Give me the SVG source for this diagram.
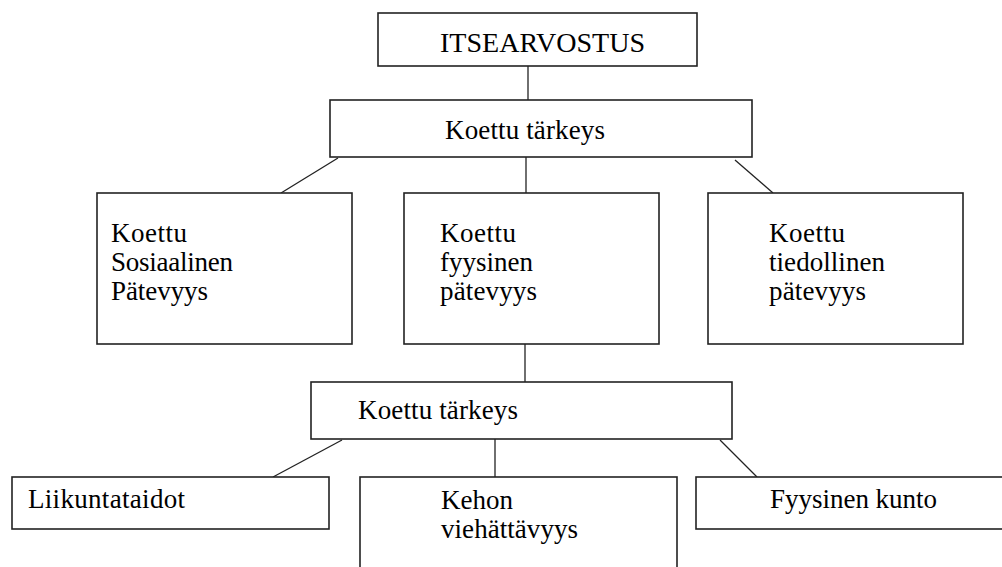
<svg xmlns="http://www.w3.org/2000/svg" width="1002" height="567" viewBox="0 0 1002 567">
<style>
.box{fill:#fff;stroke:#222;stroke-width:1.6}
.ln{stroke:#222;stroke-width:1.3;fill:none}
.t{font-family:'Liberation Serif', 'Times New Roman', serif;font-size:27px;fill:#000}
</style>
<rect width="1002" height="567" fill="#fff"/>
<g id="connectors">
<line class="ln" x1="528" y1="66" x2="528" y2="100"/>
<line class="ln" x1="526" y1="157" x2="526" y2="193"/>
<line class="ln" x1="338" y1="158" x2="281" y2="193"/>
<line class="ln" x1="735" y1="160" x2="773" y2="193"/>
<line class="ln" x1="525" y1="344" x2="525" y2="382"/>
<line class="ln" x1="342" y1="440" x2="273" y2="477"/>
<line class="ln" x1="495" y1="439" x2="495" y2="477"/>
<line class="ln" x1="720" y1="440" x2="757" y2="477"/>
</g>
<g class="t">
<g id="itsearvostus">
<rect class="box" x="378" y="13" width="319" height="53"/>
<text x="440" y="52" textLength="205" lengthAdjust="spacingAndGlyphs">ITSEARVOSTUS</text>
</g>
<g id="tarkeys1">
<rect class="box" x="330" y="100" width="422" height="57"/>
<text x="445" y="139" textLength="160" lengthAdjust="spacing">Koettu tärkeys</text>
</g>
<g id="sosiaalinen">
<rect class="box" x="97" y="193" width="255" height="151"/>
<text x="111" y="242" textLength="76" lengthAdjust="spacing">Koettu</text>
<text x="111" y="271" textLength="122" lengthAdjust="spacing">Sosiaalinen</text>
<text x="111" y="300" textLength="97" lengthAdjust="spacing">Pätevyys</text>
</g>
<g id="fyysinen">
<rect class="box" x="404" y="193" width="255" height="151"/>
<text x="440" y="242" textLength="76" lengthAdjust="spacing">Koettu</text>
<text x="440" y="271" textLength="93" lengthAdjust="spacing">fyysinen</text>
<text x="440" y="300" textLength="97" lengthAdjust="spacing">pätevyys</text>
</g>
<g id="tiedollinen">
<rect class="box" x="708" y="193" width="255" height="151"/>
<text x="769" y="242" textLength="76" lengthAdjust="spacing">Koettu</text>
<text x="769" y="271" textLength="116" lengthAdjust="spacing">tiedollinen</text>
<text x="769" y="300" textLength="97" lengthAdjust="spacing">pätevyys</text>
</g>
<g id="tarkeys2">
<rect class="box" x="311" y="382" width="421" height="57"/>
<text x="358" y="419" textLength="160" lengthAdjust="spacing">Koettu tärkeys</text>
</g>
<g id="liikuntataidot">
<rect class="box" x="12" y="477" width="317" height="52"/>
<text x="28" y="508" textLength="157" lengthAdjust="spacing">Liikuntataidot</text>
</g>
<g id="kehon">
<rect class="box" x="360" y="477" width="317" height="100"/>
<text x="441" y="509" textLength="72" lengthAdjust="spacing">Kehon</text>
<text x="441" y="538" textLength="137" lengthAdjust="spacing">viehättävyys</text>
</g>
<g id="kunto">
<rect class="box" x="696" y="477" width="320" height="52"/>
<text x="770" y="508" textLength="167" lengthAdjust="spacing">Fyysinen kunto</text>
</g>
</g>
</svg>
